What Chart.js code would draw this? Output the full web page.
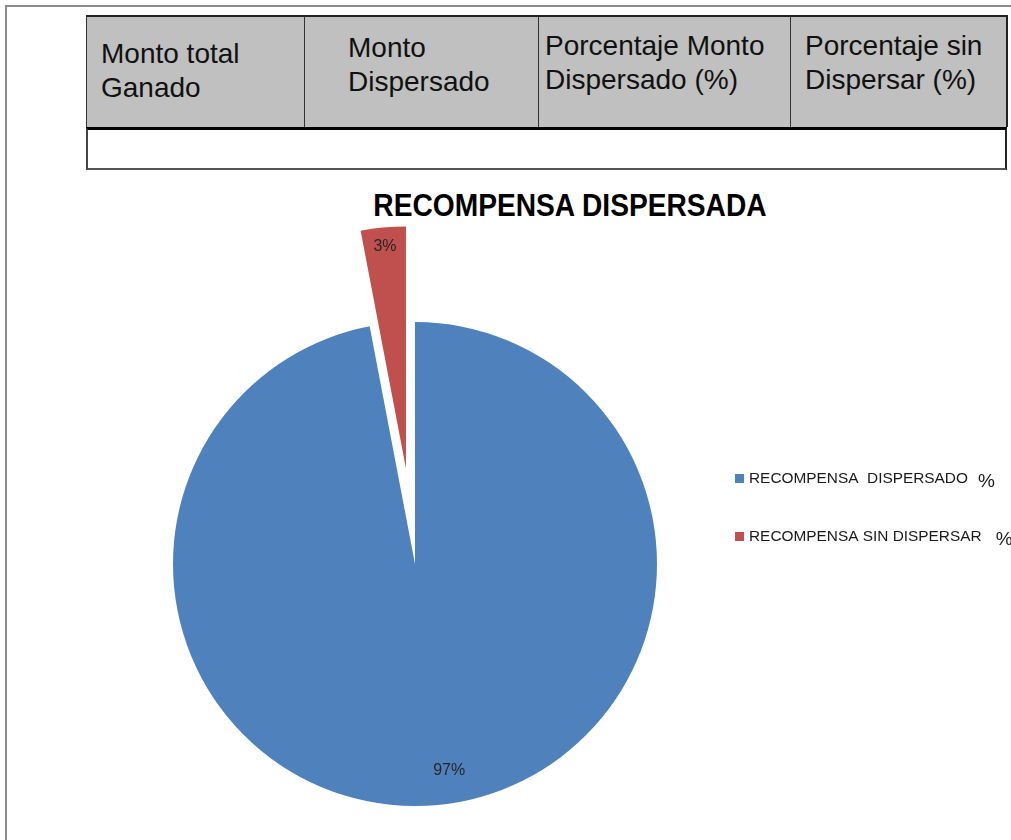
<!DOCTYPE html>
<html>
<head>
<meta charset="utf-8">
<script src="https://cdn.jsdelivr.net/npm/chart.js@4"></script>
<style>
  html, body { margin: 0; padding: 0; background: #fff; }
  body { width: 1011px; height: 840px; position: relative; overflow: hidden; font-family: "Liberation Sans", Arial, sans-serif; }
  .frame-top { position: absolute; left: 5px; top: 5px; width: 1006px; height: 2px; background: #8c8c8c; }
  .frame-left { position: absolute; left: 5px; top: 5px; width: 2px; height: 835px; background: #8c8c8c; }
  .cell { position: absolute; box-sizing: border-box; font-size: 28px; line-height: 34px; color: #111; }
  .head { background: #c0c0c0; top: 15px; height: 112px; border-top: 2px solid #222; border-left: 1px solid #333; }
  .row2 { position: absolute; left: 86px; top: 127px; width: 921px; height: 43px; box-sizing: border-box;
          border-top: 3px solid #000; border-left: 2px solid #444; border-right: 2px solid #222; border-bottom: 2px solid #555; background: #fff; }
  #title { position: absolute; left: 330px; width: 480px; top: 186px; text-align: center; white-space: nowrap;
           font-weight: bold; font-size: 32px; line-height: 38px; color: #000; transform: scaleX(0.88); }
  #pie { position: absolute; left: 0; top: 180px; }
  .legend { position: absolute; left: 735px; font-size: 15.4px; color: #1a1a1a; white-space: nowrap; }
  .legend .sq { display: inline-block; width: 9px; height: 9px; margin-right: 5px; vertical-align: 0px; }
  .legend .pct { font-size: 19px; position: relative; top: 4px; }
</style>
</head>
<body>
<div class="frame-top"></div>
<div class="frame-left"></div>
<div id="table"></div>
<div id="title"></div>
<canvas id="pie" width="830" height="660"></canvas>
<div id="legend"></div>
<script>
// table header texts
const tableHeaders = [
  ['Monto total', 'Ganado'],
  ['Monto', 'Dispersado'],
  ['Porcentaje Monto', 'Dispersado (%)'],
  ['Porcentaje sin', 'Dispersar (%)']
];

// pie data
const sliceLabels = ['RECOMPENSA  DISPERSADO', 'RECOMPENSA SIN DISPERSAR'];
const sliceValues = [97, 3];
const sliceColors = ['#4f81bd', '#c0504d'];
const chartTitle = 'RECOMPENSA DISPERSADA';

// column layout of the header row
const colEdges = [86, 304, 538, 790, 1007];
const colPad = [[20, 14], [14, 43], [12, 6], [12, 14]];

let tbl = document.getElementById('table');
for (let i = 0; i < tableHeaders.length; i++) {
  let d = document.createElement('div');
  d.className = 'cell head';
  d.style.left = colEdges[i] + 'px';
  d.style.width = (colEdges[i + 1] - colEdges[i] + 1) + 'px';
  d.style.paddingTop = colPad[i][0] + 'px';
  d.style.paddingLeft = colPad[i][1] + 'px';
  if (i == tableHeaders.length - 1) d.style.borderRight = '2px solid #222';
  d.innerHTML = tableHeaders[i].join('<br>');
  tbl.appendChild(d);
}
let r2 = document.createElement('div');
r2.className = 'row2';
tbl.appendChild(r2);

document.getElementById('title').textContent = chartTitle;

// legend next to the pie
const legendTops = [466, 524];
let leg = document.getElementById('legend');
for (let i = 0; i < sliceLabels.length; i++) {
  let item = document.createElement('div');
  item.className = 'legend';
  item.style.top = legendTops[i] + 'px';
  item.innerHTML = `<span class="sq" style="background:${sliceColors[i]}"></span>${sliceLabels[i].replace(/ /g, '&nbsp;')}<span class="pct" style="margin-left:${i == 0 ? 10 : 14}px">%</span>`;
  leg.appendChild(item);
}

// pulls slices away from the centre (pixels per slice)
const explodePlugin = {
  id: 'explode',
  afterDatasetUpdate(chart, args, opts) {
    const arcs = args.meta.data;
    arcs.forEach((arc, i) => {
      const d = (opts.distance || [])[i] || 0;
      if (!d) return;
      const mid = (arc.startAngle + arc.endAngle) / 2;
      arc.x += Math.cos(mid) * d;
      arc.y += Math.sin(mid) * d;
    });
  }
};

// percent labels inside the slices
const pctLabels = {
  id: 'pctLabels',
  afterDatasetsDraw(chart, args, opts) {
    const ctx = chart.ctx;
    const meta = chart.getDatasetMeta(0);
    const vals = chart.data.datasets[0].data;
    const total = vals.reduce((a, b) => a + b, 0);
    ctx.save();
    ctx.font = opts.font;
    ctx.fillStyle = opts.color;
    ctx.textAlign = 'center';
    ctx.textBaseline = 'middle';
    meta.data.forEach((arc, i) => {
      const a = (arc.startAngle + arc.endAngle) / 2 + opts.angleShift[i] * Math.PI / 180;
      const r = arc.outerRadius * opts.radial[i];
      ctx.fillText(Math.round(vals[i] / total * 100) + '%', arc.x + Math.cos(a) * r, arc.y + Math.sin(a) * r);
    });
    ctx.restore();
  }
};

var chart = new Chart(document.getElementById('pie'), {
  type: 'pie',
  data: {
    labels: sliceLabels,
    datasets: [{
      data: sliceValues,
      backgroundColor: sliceColors,
      borderWidth: 0,
      clip: false
    }]
  },
  options: {
    responsive: false,
    animation: false,
    radius: 242,
    layout: { padding: { top: 108 } },
    plugins: {
      legend: { display: false },
      tooltip: { enabled: false },
      title: { display: false },
      explode: { distance: [0, 96] },
      pctLabels: {
        font: '16px "Liberation Sans", Arial, sans-serif',
        color: '#262626',
        radial: [0.865, 0.92],
        angleShift: [-4, 0]
      }
    }
  },
  plugins: [explodePlugin, pctLabels]
});
</script>
</body>
</html>
